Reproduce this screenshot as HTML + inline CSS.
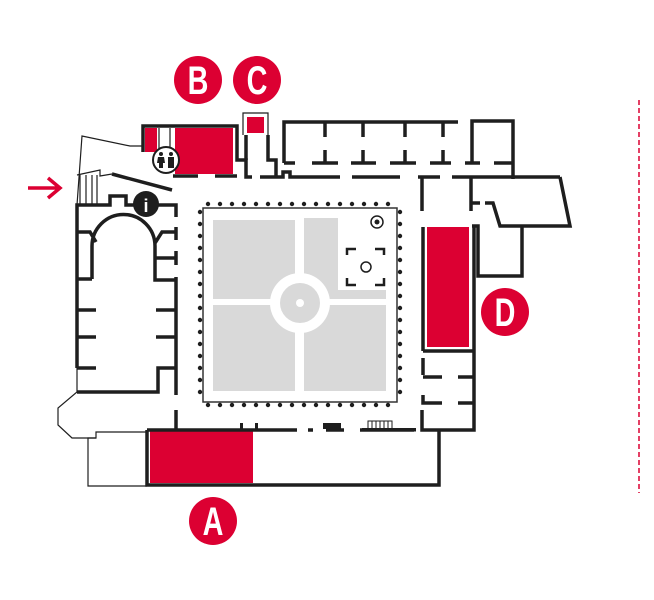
<!DOCTYPE html>
<html><head><meta charset="utf-8"><style>
html,body{margin:0;padding:0;background:#fff;}
svg{display:block;}
text{font-family:"Liberation Sans",sans-serif;font-weight:bold;}
</style></head><body>
<svg width="654" height="600" viewBox="0 0 654 600" xmlns="http://www.w3.org/2000/svg">
<line x1="639" y1="100" x2="639" y2="493" stroke="#dc0032" stroke-width="1.5" stroke-dasharray="5,3"/>
<path d="M28 188 H60 M48 178 L60 188 L48 198" stroke="#dc0032" stroke-width="3.5" fill="none"/>

<rect x="203" y="208" width="194" height="194" fill="#fff" stroke="#333" stroke-width="1.5"/>
<g fill="#d9d9d9">
<rect x="213" y="220" width="82" height="80"/>
<rect x="213" y="305" width="82" height="86"/>
<rect x="304" y="305" width="82" height="86"/>
<path d="M304 218 H338 V290 H386 V300 H304 Z"/>
</g>
<circle cx="300" cy="303" r="30" fill="#fff"/>
<rect x="295" y="218" width="9" height="175" fill="#fff"/>
<rect x="211" y="299" width="178" height="6" fill="#fff"/>
<circle cx="300" cy="303" r="20" fill="#d9d9d9"/>
<circle cx="300" cy="303" r="4" fill="#fff"/>
<g fill="#1e1e1e">
<g id="dr">
<circle cx="208" cy="204" r="2.2"/><circle cx="220" cy="204" r="2.2"/><circle cx="232" cy="204" r="2.2"/><circle cx="244" cy="204" r="2.2"/><circle cx="256" cy="204" r="2.2"/><circle cx="268" cy="204" r="2.2"/><circle cx="280" cy="204" r="2.2"/><circle cx="292" cy="204" r="2.2"/><circle cx="304" cy="204" r="2.2"/><circle cx="316" cy="204" r="2.2"/><circle cx="328" cy="204" r="2.2"/><circle cx="340" cy="204" r="2.2"/><circle cx="352" cy="204" r="2.2"/><circle cx="364" cy="204" r="2.2"/><circle cx="376" cy="204" r="2.2"/><circle cx="388" cy="204" r="2.2"/>
</g>
<use href="#dr" transform="translate(0,201)"/>
<g id="dc">
<circle cx="200" cy="212" r="2.2"/><circle cx="200" cy="224" r="2.2"/><circle cx="200" cy="236" r="2.2"/><circle cx="200" cy="248" r="2.2"/><circle cx="200" cy="260" r="2.2"/><circle cx="200" cy="272" r="2.2"/><circle cx="200" cy="284" r="2.2"/><circle cx="200" cy="296" r="2.2"/><circle cx="200" cy="308" r="2.2"/><circle cx="200" cy="320" r="2.2"/><circle cx="200" cy="332" r="2.2"/><circle cx="200" cy="344" r="2.2"/><circle cx="200" cy="356" r="2.2"/><circle cx="200" cy="368" r="2.2"/><circle cx="200" cy="380" r="2.2"/><circle cx="200" cy="392" r="2.2"/>
</g>
<use href="#dc" transform="translate(200,0)"/>
</g>
<circle cx="377" cy="222" r="6" fill="none" stroke="#1e1e1e" stroke-width="1.5"/>
<circle cx="377" cy="222" r="2.5" fill="#1e1e1e"/>
<path d="M347 255 V249 H356 M375 249 H384 V255 M347 278 V285 H356 M375 285 H384 V278" stroke="#1e1e1e" stroke-width="2.5" fill="none"/>
<circle cx="366" cy="267" r="5" fill="none" stroke="#1e1e1e" stroke-width="1.5"/>

<g fill="#dc0032">
<rect x="145" y="128" width="12" height="24"/>
<rect x="175" y="128" width="58" height="46"/>
<rect x="247" y="117" width="17" height="16"/>
<rect x="427" y="227" width="42" height="120"/>
<rect x="150" y="431" width="103" height="52"/>
</g>

<g stroke="#1e1e1e" stroke-width="1.2" fill="none">
<path d="M143 146 H130 L82 136 L77 205"/>
<path d="M80 175 V205 M86 175 V205 M92 175 V205 M97 175 V205"/>
<path d="M77 175 L100 170 V176 L112 174"/>
<path d="M77 368 V392 L58 408 V425 L72 438 H96 V432 H147"/>
<path d="M96 438 H88 V486 H147"/>
<path d="M243 135 V113 H268 V135"/>
<path d="M159 128 V152 M170 128 V152"/>
</g>

<g stroke="#1e1e1e" stroke-width="3.5" fill="none" stroke-linecap="butt">
<line x1="112" y1="174" x2="172" y2="190"/>
<path d="M143 152 V126 H237 V160 H246 V177 H252"/>
<path d="M173 176 H198 M215 176 H237"/>
<path d="M246 160 V135 M268 135 V160 H276 V177"/>
<path d="M284 163 V122 H458"/>
<path d="M325 122 V137 M363 122 V137 M405 122 V137 M443 122 V137"/>
<path d="M325 150 V163 M363 150 V163 M405 150 V163 M443 150 V163"/>
<path d="M284 163 H295 M312 163 H338 M351 163 H376 M390 163 H416 M430 163 H451 M465 163 H480 M494 163 H513"/>
<path d="M472 163 V121 H513 V179"/>
<path d="M260 177 H283 V172 H290 V177 H340 M352 177 H400 M418 177 H440 M452 177 H560"/>
<path d="M422 177 V211 M471 177 V211 M471 203 H480"/>
<path d="M560 177 L570 226 H500 L493 203 H485"/>
<path d="M522 226 V276 H478 V226 H472"/>
<path d="M423 227 V351 M474 227 V430 H422 V410"/>
<path d="M423 351 H474"/>
<path d="M423 358 V375 M423 377 H442 M458 377 H474 M423 395 V403 H442 M458 403 H474"/>
<path d="M147 430 V485 H439 V430"/>
<path d="M147 430 H297 M308 430 H313 M326 430 H344 M360 430 H414"/>
<path d="M77 368 V205 H110 V196 H126 V205 H176 V217"/>
<path d="M176 227 V240 M176 251 V265 M176 277 V395 M176 410 V430"/>
<path d="M77 232 H90 L96 242 M92 279 V246 A31 31 0 0 1 155 246 V280 H176 M155 243 L162 232 H176 M155 258 H176 M77 279 H92"/>
<path d="M77 310 H96 M77 337 H96 M156 310 H176 M156 337 H176 M77 368 H96 M176 368 H158 V392 H77"/>
</g>
<rect x="323" y="423" width="18" height="6" fill="#1e1e1e"/>
<rect x="368" y="421" width="24" height="8" fill="#fff" stroke="#1e1e1e" stroke-width="1"/>
<path d="M372 421 V429 M376 421 V429 M380 421 V429 M384 421 V429 M388 421 V429" stroke="#1e1e1e" stroke-width="1"/>
<rect x="362" y="428" width="54" height="3.5" fill="#1e1e1e"/>
<rect x="240" y="423" width="3" height="7" fill="#1e1e1e"/>
<rect x="255" y="423" width="3" height="7" fill="#1e1e1e"/>

<circle cx="146" cy="204" r="13" fill="#1e1e1e"/>
<text x="146" y="212" font-size="18" fill="#fff" text-anchor="middle" font-family="Liberation Serif">i</text>
<circle cx="166" cy="160" r="13" fill="#fff" stroke="#1e1e1e" stroke-width="2"/>
<g fill="#1e1e1e">
<circle cx="161" cy="154" r="2"/><path d="M158 157 H164 L165 163 H157 Z"/><rect x="159" y="163" width="4" height="5"/>
<circle cx="171" cy="154" r="2"/><rect x="168" y="157" width="6" height="11"/>
</g>

<g fill="#fff" font-size="40" text-anchor="middle">
<circle cx="198" cy="80" r="24" fill="#dc0032"/>
<circle cx="257" cy="80" r="24" fill="#dc0032"/>
<circle cx="505" cy="312" r="24" fill="#dc0032"/>
<circle cx="213" cy="521" r="24" fill="#dc0032"/>
<text transform="translate(198,94) scale(0.72,1)">B</text>
<text transform="translate(257,94) scale(0.72,1)">C</text>
<text transform="translate(505,326) scale(0.72,1)">D</text>
<text transform="translate(213,535) scale(0.72,1)">A</text>
</g>
</svg>
</body></html>
